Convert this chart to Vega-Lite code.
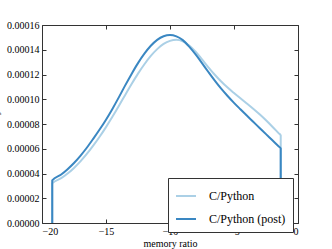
{
  "$schema": "https://vega.github.io/schema/vega-lite/v6.json",
  "width": 256,
  "height": 198,
  "autosize": "none",
  "padding": {"left": 42, "top": 25, "right": 34, "bottom": 26},
  "background": "white",
  "config": {
    "font": "'Liberation Serif', 'Times New Roman', Times, serif",
    "view": {"stroke": "#333", "strokeWidth": 1},
    "axis": {"labelFont": "'Liberation Serif', 'Times New Roman', Times, serif", "titleFont": "'Liberation Serif', 'Times New Roman', Times, serif", "labelFontSize": 10, "titleFontSize": 10, "titleFontWeight": "normal", "labelColor": "#000", "titleColor": "#000", "grid": false, "domain": false, "tickColor": "#333", "tickSize": -4, "labelPadding": 7},
    "legend": {"labelFont": "'Liberation Serif', 'Times New Roman', Times, serif"}
  },
  "data": {"values": [
    {"s": "C/Python", "x": -19.2, "y": 0},
    {"s": "C/Python", "x": -19.2, "y": 0.0000320},
    {"s": "C/Python", "x": -18.5, "y": 0.0000362},
    {"s": "C/Python", "x": -18, "y": 0.0000400},
    {"s": "C/Python", "x": -17.5, "y": 0.0000445},
    {"s": "C/Python", "x": -17, "y": 0.0000498},
    {"s": "C/Python", "x": -16.5, "y": 0.0000558},
    {"s": "C/Python", "x": -16, "y": 0.0000625},
    {"s": "C/Python", "x": -15.5, "y": 0.0000697},
    {"s": "C/Python", "x": -15, "y": 0.0000775},
    {"s": "C/Python", "x": -14.5, "y": 0.0000858},
    {"s": "C/Python", "x": -14, "y": 0.0000945},
    {"s": "C/Python", "x": -13.5, "y": 0.0001035},
    {"s": "C/Python", "x": -13, "y": 0.0001123},
    {"s": "C/Python", "x": -12.5, "y": 0.0001207},
    {"s": "C/Python", "x": -12, "y": 0.0001283},
    {"s": "C/Python", "x": -11.5, "y": 0.0001350},
    {"s": "C/Python", "x": -11, "y": 0.0001405},
    {"s": "C/Python", "x": -10.5, "y": 0.0001447},
    {"s": "C/Python", "x": -10, "y": 0.0001472},
    {"s": "C/Python", "x": -9.5, "y": 0.0001480},
    {"s": "C/Python", "x": -9, "y": 0.0001468},
    {"s": "C/Python", "x": -8.5, "y": 0.0001435},
    {"s": "C/Python", "x": -8, "y": 0.0001385},
    {"s": "C/Python", "x": -7.5, "y": 0.0001322},
    {"s": "C/Python", "x": -7, "y": 0.0001258},
    {"s": "C/Python", "x": -6.5, "y": 0.0001198},
    {"s": "C/Python", "x": -6, "y": 0.0001143},
    {"s": "C/Python", "x": -5.5, "y": 0.0001094},
    {"s": "C/Python", "x": -5, "y": 0.0001050},
    {"s": "C/Python", "x": -4.5, "y": 0.0001008},
    {"s": "C/Python", "x": -4, "y": 0.0000966},
    {"s": "C/Python", "x": -3.5, "y": 0.0000923},
    {"s": "C/Python", "x": -3, "y": 0.0000878},
    {"s": "C/Python", "x": -2.5, "y": 0.0000830},
    {"s": "C/Python", "x": -2, "y": 0.0000778},
    {"s": "C/Python", "x": -1.5, "y": 0.0000724},
    {"s": "C/Python", "x": -1.35, "y": 0.0000708},
    {"s": "C/Python", "x": -1.35, "y": 0},
    {"s": "C/Python (post)", "x": -19.2, "y": 0},
    {"s": "C/Python (post)", "x": -19.2, "y": 0.0000345},
    {"s": "C/Python (post)", "x": -18.5, "y": 0.0000392},
    {"s": "C/Python (post)", "x": -18, "y": 0.0000435},
    {"s": "C/Python (post)", "x": -17.5, "y": 0.0000485},
    {"s": "C/Python (post)", "x": -17, "y": 0.0000543},
    {"s": "C/Python (post)", "x": -16.5, "y": 0.0000608},
    {"s": "C/Python (post)", "x": -16, "y": 0.0000680},
    {"s": "C/Python (post)", "x": -15.5, "y": 0.0000755},
    {"s": "C/Python (post)", "x": -15, "y": 0.0000835},
    {"s": "C/Python (post)", "x": -14.5, "y": 0.0000922},
    {"s": "C/Python (post)", "x": -14, "y": 0.0001015},
    {"s": "C/Python (post)", "x": -13.5, "y": 0.0001112},
    {"s": "C/Python (post)", "x": -13, "y": 0.0001205},
    {"s": "C/Python (post)", "x": -12.5, "y": 0.0001292},
    {"s": "C/Python (post)", "x": -12, "y": 0.0001368},
    {"s": "C/Python (post)", "x": -11.5, "y": 0.0001432},
    {"s": "C/Python (post)", "x": -11, "y": 0.0001480},
    {"s": "C/Python (post)", "x": -10.5, "y": 0.0001509},
    {"s": "C/Python (post)", "x": -10, "y": 0.0001519},
    {"s": "C/Python (post)", "x": -9.5, "y": 0.0001508},
    {"s": "C/Python (post)", "x": -9, "y": 0.0001478},
    {"s": "C/Python (post)", "x": -8.5, "y": 0.0001425},
    {"s": "C/Python (post)", "x": -8, "y": 0.0001362},
    {"s": "C/Python (post)", "x": -7.5, "y": 0.0001292},
    {"s": "C/Python (post)", "x": -7, "y": 0.0001220},
    {"s": "C/Python (post)", "x": -6.5, "y": 0.0001150},
    {"s": "C/Python (post)", "x": -6, "y": 0.0001085},
    {"s": "C/Python (post)", "x": -5.5, "y": 0.0001026},
    {"s": "C/Python (post)", "x": -5, "y": 0.0000971},
    {"s": "C/Python (post)", "x": -4.5, "y": 0.0000919},
    {"s": "C/Python (post)", "x": -4, "y": 0.0000868},
    {"s": "C/Python (post)", "x": -3.5, "y": 0.0000818},
    {"s": "C/Python (post)", "x": -3, "y": 0.0000768},
    {"s": "C/Python (post)", "x": -2.5, "y": 0.0000718},
    {"s": "C/Python (post)", "x": -2, "y": 0.0000668},
    {"s": "C/Python (post)", "x": -1.5, "y": 0.0000618},
    {"s": "C/Python (post)", "x": -1.35, "y": 0.0000603},
    {"s": "C/Python (post)", "x": -1.35, "y": 0}
  ]},
  "layer": [
    {
      "mark": {"type": "line", "interpolate": "monotone", "strokeWidth": 2, "clip": true},
      "encoding": {
        "x": {"field": "x", "type": "quantitative", "scale": {"domain": [-20, 0], "nice": false, "zero": false}, "axis": {"title": "memory ratio", "values": [-20, -15, -10, -5, 0], "format": "d", "titlePadding": 2}},
        "y": {"field": "y", "type": "quantitative", "scale": {"domain": [0, 0.00016], "nice": false}, "axis": {"title": "density", "values": [0, 0.00002, 0.00004, 0.00006, 0.00008, 0.0001, 0.00012, 0.00014, 0.00016], "format": ".5f", "titlePadding": 6}},
        "color": {"field": "s", "type": "nominal", "scale": {"domain": ["C/Python", "C/Python (post)"], "range": ["#abd0e6", "#3a87c2"]},
          "legend": {"title": null, "orient": "none", "legendX": 126, "legendY": 153, "symbolType": "stroke", "symbolSize": 400, "symbolStrokeWidth": 2, "labelFontSize": 12, "labelColor": "#000", "labelOffset": 12, "padding": 7, "rowPadding": 6, "strokeColor": "#333", "fillColor": "white", "cornerRadius": 0}},
        "order": {"field": "s", "type": "nominal"}
      }
    },
    {
      "mark": {"type": "point", "opacity": 0},
      "encoding": {
        "x": {"field": "x", "type": "quantitative", "scale": {"domain": [-20, 0], "nice": false, "zero": false}, "axis": {"orient": "top", "labels": false, "title": null, "values": [-20, -15, -10, -5, 0]}},
        "y": {"field": "y", "type": "quantitative", "scale": {"domain": [0, 0.00016], "nice": false}, "axis": {"orient": "right", "labels": false, "title": null, "values": [0, 0.00002, 0.00004, 0.00006, 0.00008, 0.0001, 0.00012, 0.00014, 0.00016]}}
      }
    }
  ],
  "resolve": {"axis": {"x": "independent", "y": "independent"}}
}
